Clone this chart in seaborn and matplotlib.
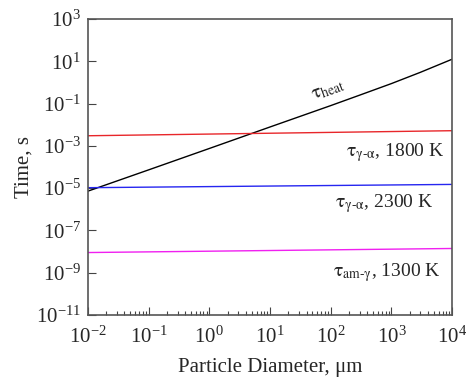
import pandas as pd
import matplotlib
matplotlib.use('Agg')
import matplotlib.pyplot as plt
import seaborn as sns

# values
diameter = [1e-2, 1e-1, 1e0, 1e1, 1e2, 3e2, 1e3, 3e3, 1e4]
t_heat = [7.2e-6, 7.3e-5, 7.5e-4, 7.8e-3, 8.0e-2, 0.25, 0.88, 3.0, 12.5]

diameter_ticks = [1e-2, 1e-1, 1e0, 1e1, 1e2, 1e3, 1e4]
diameter_ends = [1e-2, 1e4]
t_ga_1800 = [3.0e-3, 5.2e-3]
t_ga_2300 = [1.05e-5, 1.5e-5]
t_amg_1300 = [9.0e-9, 1.4e-8]

sns.set_style('ticks')
plt.rcParams['font.family'] = ['Liberation Serif', 'DejaVu Serif']
plt.rcParams['mathtext.fontset'] = 'stix'
plt.rcParams['axes.unicode_minus'] = False

fig = plt.figure(figsize=(4.7, 3.87), dpi=100)
ax = fig.add_axes([0.187, 0.186, 0.775, 0.765])

heat = pd.DataFrame({'d': diameter, 't': t_heat})
sns.lineplot(data=heat, x='d', y='t', color='black', lw=1, ax=ax)

series = [(t_ga_1800, '#e8262a'), (t_ga_2300, '#2626f0'), (t_amg_1300, '#f020f0')]
for vals, col in series:
    df = pd.DataFrame({'d': diameter_ends, 't': vals})
    sns.lineplot(data=df, x='d', y='t', color=col, lw=1, ax=ax)

ax.set_xscale('log')
ax.set_yscale('log')
ax.set_xlim(1e-2, 1e4)
ax.set_ylim(1e-11, 1e3)
ax.set_xticks(diameter_ticks)
ax.set_yticks([10.0**k for k in range(-11, 4, 2)])
ax.yaxis.set_minor_locator(matplotlib.ticker.NullLocator())
ax.xaxis.set_minor_locator(matplotlib.ticker.LogLocator(base=10, subs=range(2, 10), numticks=20))
ax.xaxis.set_minor_formatter(matplotlib.ticker.NullFormatter())

ax.tick_params(which='both', direction='in', labelsize=15, color='#444444')
ax.tick_params(which='major', length=6, width=0.8)
ax.tick_params(which='minor', length=3, width=0.8)
ax.tick_params(axis='x', pad=8)
ax.tick_params(axis='y', pad=5)
for s in ax.spines.values():
    s.set_color('#555555')
    s.set_linewidth(1.2)

ax.set_xlabel('Particle Diameter, \u03bcm', fontsize=15, labelpad=8)
ax.set_ylabel('Time, s', fontsize=15, labelpad=2)

ax.text(0.66, 0.76, r'$\mathrm{\tau}_{\mathrm{heat}}$', transform=ax.transAxes,
        fontsize=14, rotation=20, ha='center', va='center')
ax.text(0.98, 0.55, r'$\mathrm{\tau}_{\mathrm{\gamma}\text{-}\mathrm{\alpha}}$, 1800 K', transform=ax.transAxes,
        fontsize=14, ha='right', va='center')
ax.text(0.95, 0.378, r'$\mathrm{\tau}_{\mathrm{\gamma}\text{-}\mathrm{\alpha}}$, 2300 K', transform=ax.transAxes,
        fontsize=14, ha='right', va='center')
ax.text(0.97, 0.142, r'$\mathrm{\tau}_{\mathrm{am}\text{-}\mathrm{\gamma}}$, 1300 K', transform=ax.transAxes,
        fontsize=14, ha='right', va='center')

fig.savefig('out.png', dpi=100)
